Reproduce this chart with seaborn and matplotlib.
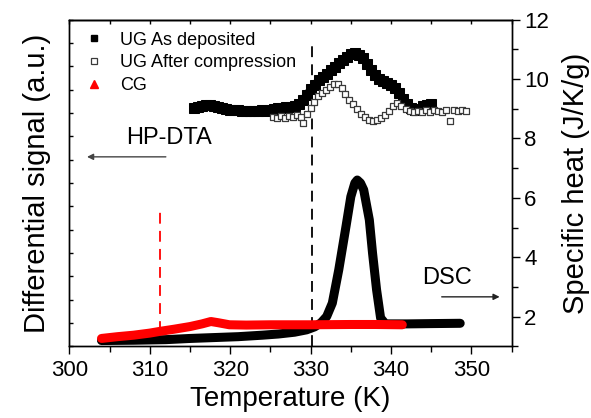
import numpy as np
import pandas as pd
import seaborn as sns
import matplotlib
matplotlib.use("Agg")
import matplotlib.pyplot as plt
from matplotlib.lines import Line2D
from matplotlib.ticker import MultipleLocator

# ---------------- data ----------------
# HP-DTA, UG as deposited (filled squares)
hp_dep_T = [315.5, 316.0, 316.5, 317.0, 317.5, 318.0, 318.5, 319.0, 319.5, 320.0,
            320.5, 321.0, 321.5, 322.0, 322.5, 323.0, 323.5, 324.0, 324.5, 325.0,
            325.5, 326.0, 326.5, 327.0, 327.5, 328.0, 328.5, 329.0, 329.5, 330.0,
            330.5, 331.0, 331.5, 332.0, 332.5, 333.0, 333.5, 334.0, 334.5, 335.0,
            335.5, 336.0, 336.5, 337.0, 337.5, 338.0, 338.5, 339.0, 339.5, 340.0,
            340.5, 341.0, 341.5, 342.0, 342.5, 343.0, 343.5, 344.0, 344.5, 345.0]
hp_dep_S = [9.03, 9.06, 9.09, 9.13, 9.13, 9.09, 9.06, 9.03, 8.99, 8.96,
            8.96, 8.96, 8.92, 8.92, 8.92, 8.92, 8.92, 8.96, 8.92, 8.96,
            8.99, 9.03, 9.03, 9.06, 9.06, 9.09, 9.16, 9.29, 9.46, 9.66,
            9.80, 9.97, 10.07, 10.17, 10.30, 10.40, 10.54, 10.64, 10.74, 10.84,
            10.87, 10.81, 10.71, 10.50, 10.30, 10.13, 10.00, 9.93, 9.87, 9.80,
            9.70, 9.53, 9.33, 9.16, 9.03, 8.96, 8.99, 9.09, 9.13, 9.16]

# HP-DTA, UG after compression (open squares)
hp_cmp_T = [325.3, 325.8, 326.3, 326.8, 327.3, 327.8, 328.3, 328.8, 329.1, 329.5,
            330.0, 330.4, 330.9, 331.4, 331.9, 332.4, 332.9, 333.4, 333.9, 334.3,
            334.8, 335.3, 335.8, 336.3, 336.8, 337.3, 337.8, 338.3, 338.8, 339.3,
            339.8, 340.3, 340.8, 341.3, 341.8, 342.3, 342.8, 343.3, 343.8, 344.3,
            344.8, 345.3, 345.8, 346.3, 346.8, 347.3, 347.8, 348.3, 348.8, 349.3]
hp_cmp_S = [8.72, 8.69, 8.76, 8.69, 8.76, 8.72, 8.79, 8.72, 8.52, 8.82,
            9.03, 9.23, 9.43, 9.53, 9.63, 9.73, 9.83, 9.83, 9.70, 9.50,
            9.29, 9.16, 8.99, 8.82, 8.72, 8.62, 8.59, 8.62, 8.69, 8.79,
            8.92, 9.09, 9.19, 9.09, 8.99, 8.92, 8.89, 8.92, 8.89, 8.96,
            8.89, 8.96, 8.92, 8.89, 8.96, 8.59, 8.96, 8.92, 8.96, 8.92]

# DSC, UG as deposited (black)
dsc_dep_T = [304.0, 308.0, 312.0, 315.0, 318.0, 321.0, 324.0, 326.0, 328.0, 329.5,
             330.5, 331.3, 332.0, 332.7, 333.5, 334.4, 335.0, 335.5, 335.8, 336.2,
             336.6, 337.3, 337.7, 338.2, 338.7, 339.3, 342.0, 345.0, 348.6]
dsc_dep_C = [1.20, 1.21, 1.23, 1.27, 1.30, 1.33, 1.38, 1.42, 1.48, 1.56,
             1.66, 1.80, 2.01, 2.46, 3.58, 5.04, 6.04, 6.50, 6.60, 6.50,
             6.27, 5.26, 4.14, 2.91, 1.96, 1.76, 1.76, 1.77, 1.78]

# DSC, CG (red)
dsc_cg_T = [304.0, 306.0, 308.0, 310.0, 311.3, 313.0, 315.0, 316.5, 317.6, 318.5,
            319.9, 322.0, 325.0, 330.0, 335.0, 338.0, 341.4]
dsc_cg_C = [1.27, 1.33, 1.38, 1.45, 1.51, 1.58, 1.67, 1.76, 1.84, 1.80,
            1.73, 1.72, 1.73, 1.73, 1.74, 1.74, 1.73]

# dashed reference lines
ref_T = [330.2, 311.3]
ref_low = [1.0, 1.5]
ref_high = [11.15, 5.6]
ref_colors = ["black", "red"]

legend_labels = ["UG As deposited", "UG After compression", "CG"]

# ---------------- style ----------------
sns.set_style("ticks")
plt.rcParams["font.family"] = ["Liberation Sans", "DejaVu Sans"]
plt.rcParams.update({
    "axes.linewidth": 1.0,
    "text.color": "black",
    "axes.labelcolor": "black",
    "xtick.color": "black",
    "ytick.color": "black",
    "axes.edgecolor": "black",
})

fig, ax = plt.subplots(figsize=(5.91, 4.18), dpi=100)
fig.subplots_adjust(left=0.1173, right=0.8658, top=0.9533, bottom=0.1711)
ax2 = ax.twinx()

# dashed reference lines
for T, lo, hi, c in zip(ref_T, ref_low, ref_high, ref_colors):
    ax.plot([T, T], [lo, hi], color=c, lw=1.3, ls=(0, (6, 4)), zorder=1)

# HP-DTA markers (left axis)
df_dep = pd.DataFrame({"T": hp_dep_T, "S": hp_dep_S})
df_cmp = pd.DataFrame({"T": hp_cmp_T, "S": hp_cmp_S})
sns.lineplot(data=df_dep, x="T", y="S", ax=ax, color="black", lw=5.5,
             marker="s", markersize=7, markeredgecolor="black",
             solid_joinstyle="miter", zorder=3)
sns.scatterplot(data=df_cmp, x="T", y="S", ax=ax, marker="s", s=24,
                facecolor="white", edgecolor="#3a3a3a", linewidth=0.9, zorder=4)

# DSC (right axis)
df_dsc = pd.DataFrame({"T": dsc_dep_T, "C": dsc_dep_C})
df_cg = pd.DataFrame({"T": dsc_cg_T, "C": dsc_cg_C})
sns.lineplot(data=df_dsc, x="T", y="C", ax=ax2, color="black", lw=6.5,
             solid_capstyle="round", solid_joinstyle="round", zorder=3)
sns.lineplot(data=df_cg, x="T", y="C", ax=ax2, color="#ff0000", lw=6.5,
             solid_capstyle="round", solid_joinstyle="round", zorder=4)

# limits
for a in (ax, ax2):
    a.set_xlim(300, 355)
    a.set_ylim(1, 12)

# x axis
ax.set_xticks([300, 310, 320, 330, 340, 350])
ax.xaxis.set_minor_locator(MultipleLocator(5))
ax.tick_params(axis="x", which="major", direction="out", length=6, width=1,
               labelsize=16, pad=4)
ax.tick_params(axis="x", which="minor", direction="out", length=4, width=1)
secx = ax.secondary_xaxis("top")
secx.set_xticks(np.arange(300, 356, 5))
secx.tick_params(axis="x", direction="in", length=3, width=1, labeltop=False)
secx.xaxis.set_minor_locator(plt.NullLocator())
ax.set_xlabel("Temperature (K)", fontsize=20, labelpad=3)

# left axis (a.u., no labels)
ax.set_yticks(np.linspace(1, 12, 15))
ax.tick_params(axis="y", direction="in", length=3, width=1, labelleft=False)
ax.set_ylabel("Differential signal (a.u.)", fontsize=21, labelpad=13)

# right axis
ax2.set_yticks([2, 4, 6, 8, 10, 12])
ax2.yaxis.set_minor_locator(MultipleLocator(1))
ax2.tick_params(axis="y", which="major", direction="out", length=6, width=1,
                labelsize=16, pad=3)
ax2.tick_params(axis="y", which="minor", direction="out", length=4, width=1)
ax2.set_ylabel("Specific heat (J/K/g)", fontsize=21, labelpad=9)

for a in (ax, ax2):
    for sp in a.spines.values():
        sp.set_color("black")
        sp.set_linewidth(1.0)

# annotations
ax2.text(312.4, 8.0, "HP-DTA", fontsize=17, ha="center", va="center")
ax2.annotate("", xy=(302.2, 7.38), xytext=(312.0, 7.38),
             arrowprops=dict(arrowstyle="-|>", color="#444444", lw=1.0,
                             mutation_scale=9, shrinkA=0, shrinkB=0))
ax2.text(347.0, 3.3, "DSC", fontsize=17, ha="center", va="center")
ax2.annotate("", xy=(353.5, 2.67), xytext=(346.3, 2.67),
             arrowprops=dict(arrowstyle="-|>", color="#222222", lw=1.0,
                             mutation_scale=9, shrinkA=0, shrinkB=0))

# legend
handles = [
    Line2D([], [], ls="none", marker="s", ms=5, mfc="black", mec="black"),
    Line2D([], [], ls="none", marker="s", ms=4.5, mfc="white", mec="#3a3a3a", mew=0.9),
    Line2D([], [], ls="none", marker="^", ms=6, mfc="#ff0000", mec="#ff0000"),
]
leg = ax2.legend(handles, legend_labels, loc="upper left",
                 bbox_to_anchor=(0.02, 0.985), frameon=False, fontsize=13,
                 handlelength=1.0, handletextpad=0.9, labelspacing=0.32,
                 borderaxespad=0)

fig.savefig("out.png", dpi=100)
